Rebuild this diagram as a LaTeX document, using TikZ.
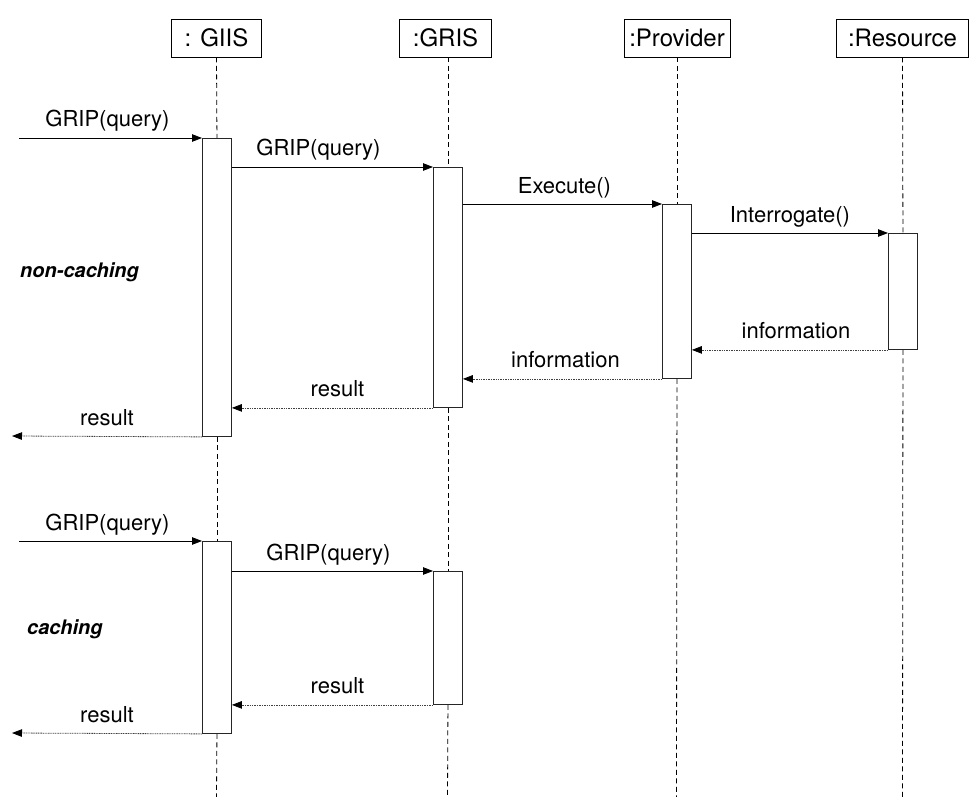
\documentclass[tikz,border=0pt]{standalone}
\usepackage{fontspec}
\setmainfont{TeX Gyre Heros}
\usetikzlibrary{arrows.meta}
\begin{document}
\begin{tikzpicture}[x=1pt,y=-1pt,
  head/.style={draw, line width=0.8pt, minimum height=38pt, inner sep=0pt, font=\fontsize{24}{28}\selectfont},
  bar/.style={draw=black!85, line width=0.9pt, fill=white, minimum width=29pt, anchor=north west, inner sep=0pt},
  life/.style={line width=0.8pt, dash pattern=on 5pt off 3.5pt},
  call/.style={line width=0.8pt, -{Triangle[length=10pt,width=7.5pt]}},
  reply/.style={black!75, line width=0.8pt, dash pattern=on 1pt off 0.7pt, -{Triangle[length=10pt,width=7.5pt,color=black]}},
  msg/.style={midway, anchor=base, yshift=11pt, inner sep=0pt, text=black, font=\fontsize{22}{26}\selectfont},
  phase/.style={anchor=base west, inner sep=0pt, font=\fontsize{20}{24}\selectfont\bfseries\itshape}]
\useasboundingbox (0,0) rectangle (969,797);

% object heads
\node[head, minimum width=90pt]  (giis) at (216.5,38) {: GIIS};
\node[head, minimum width=92pt]  (gris) at (445.5,38) {:GRIS};
\node[head, minimum width=106pt] (prov) at (677,38) {:Provider};
\node[head, minimum width=132pt] (res)  at (902.5,38) {:Resource};

% activation bars, non-caching scenario
\node[bar, minimum height=298pt] (giisA) at (202,138) {};
\node[bar, minimum height=240pt] (grisA) at (433,167) {};
\node[bar, minimum height=174pt] (provA) at (662,204) {};
\node[bar, minimum height=116pt] (resA)  at (888,233) {};

% activation bars, caching scenario
\node[bar, minimum height=192pt] (giisB) at (202,541) {};
\node[bar, minimum height=133pt] (grisB) at (433,571) {};

% lifeline ends and free message ends
\coordinate (giisEnd) at (216.5,797);
\coordinate (grisEnd) at (447.5,797);
\coordinate (provEnd) at (676.5,797);
\coordinate (resEnd)  at (902.5,797);
\coordinate (inA)  at (19,138);
\coordinate (outA) at (12,436);
\coordinate (inB)  at (19,541);
\coordinate (outB) at (12,733);

% lifelines
\draw[life] (giis.south) -- (giisA.north);
\draw[life] (giisA.south) -- (giisB.north);
\draw[life] (giisB.south) -- (giisEnd);
\draw[life] (gris.south -| grisA.north) -- (grisA.north);
\draw[life] (grisA.south) -- (grisB.north);
\draw[life] (grisB.south) -- (grisEnd);
\draw[life] (prov.south -| provA.north) -- (provA.north);
\draw[life] (provA.south) -- (provEnd);
\draw[life] (res.south) -- (resA.north);
\draw[life] (resA.south) -- (resEnd);

% non-caching messages
\draw[call] (inA) -- (giisA.north west) node[msg, xshift=-3pt] {GRIP(query)};
\draw[call] (giisA.east |- grisA.north west) -- (grisA.north west) node[msg, xshift=-14pt] {GRIP(query)};
\draw[call] (grisA.east |- provA.north west) -- (provA.north west) node[msg, xshift=2pt] {Execute()};
\draw[call] (provA.east |- resA.north west) -- (resA.north west) node[msg] {Interrogate()};
\draw[reply] (resA.south west) -- (provA.east |- resA.south west) node[msg, xshift=6pt] {information};
\draw[reply] (provA.south west) -- (grisA.east |- provA.south west) node[msg, xshift=3pt] {information};
\draw[reply] (grisA.south west) -- (giisA.east |- grisA.south west) node[msg, xshift=5pt] {result};
\draw[reply] (giisA.south west) -- (outA) node[msg] {result};

% caching messages
\draw[call] (inB) -- (giisB.north west) node[msg, xshift=-3pt] {GRIP(query)};
\draw[call] (giisB.east |- grisB.north west) -- (grisB.north west) node[msg, xshift=-4pt] {GRIP(query)};
\draw[reply] (grisB.south west) -- (giisB.east |- grisB.south west) node[msg, xshift=5pt] {result};
\draw[reply] (giisB.south west) -- (outB) node[msg] {result};

% scenario captions
\node[phase] (nc) at (20,277) {non-caching};
\node[phase] (ca) at (27,634) {caching};
\end{tikzpicture}
\end{document}
